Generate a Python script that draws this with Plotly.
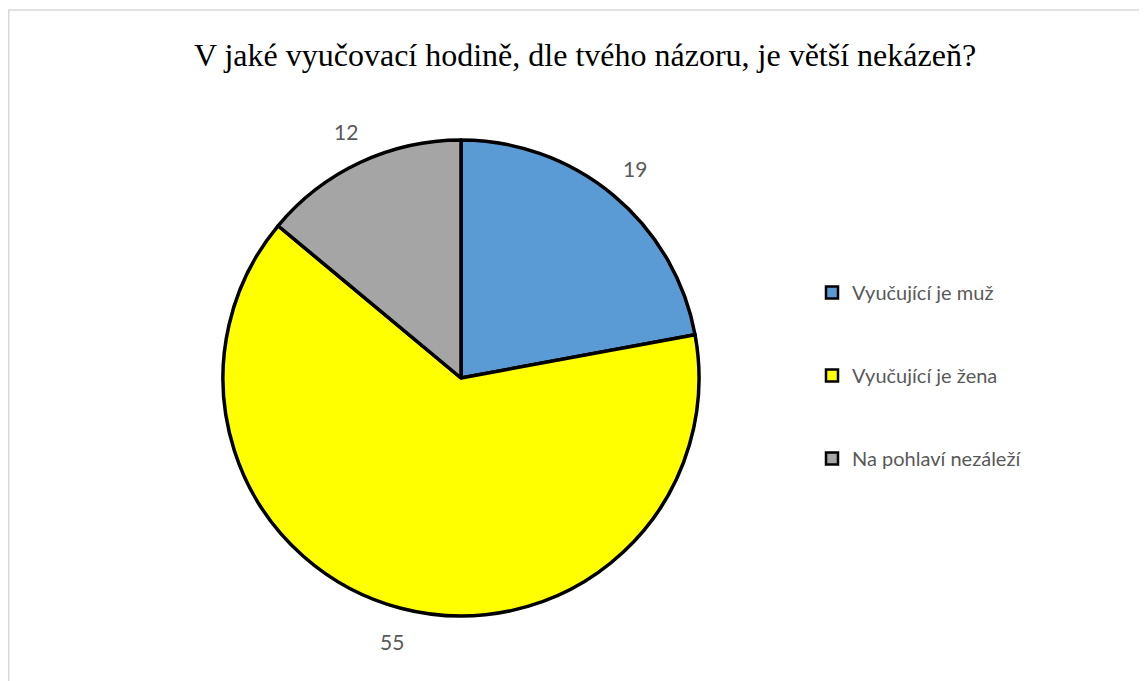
import math
import plotly.graph_objects as go

categories = ["Vyučující je muž", "Vyučující je žena", "Na pohlaví nezáleží"]
values = [19, 55, 12]
colors = ["#5b9bd5", "#ffff00", "#a5a5a5"]
title_text = "V jaké vyučovací hodině, dle tvého názoru, je větší nekázeň?"

W, H = 1147, 681
off = 8  # page body margin
cx, cy, R = 461 - off, 378 - off, 238
label_r = 272

fig = go.Figure()
fig.add_trace(go.Pie(
    labels=categories, values=values, sort=False, direction="clockwise", rotation=0,
    marker=dict(colors=colors, line=dict(color="black", width=3.5)),
    textinfo="none", hoverinfo="label+value", showlegend=False,
    domain=dict(x=[(cx - R) / W, (cx + R) / W], y=[(H - cy - R) / H, (H - cy + R) / H]),
))

for i, (c, col) in enumerate(zip(categories, colors)):
    fig.add_trace(go.Scatter(
        x=[None], y=[None], mode="markers", name=c, legendgroup=f"g{i}",
        marker=dict(symbol="square", size=12, color=col, line=dict(color="black", width=2.5)),
    ))

total = sum(values)
cum = 0
annotations = []
for v in values:
    mid = (cum + v / 2) / total * 2 * math.pi
    cum += v
    px = cx + label_r * math.sin(mid)
    py = cy - label_r * math.cos(mid)
    annotations.append(dict(
        x=px / W, y=(H - py) / H, xref="paper", yref="paper", text=str(v),
        showarrow=False, xanchor="center", yanchor="middle",
        font=dict(family="Lato", size=21, color="#595959"),
    ))

fig.update_layout(
    width=W, height=H,
    margin=dict(l=0, r=0, t=0, b=0),
    paper_bgcolor="white", plot_bgcolor="white",
    title=dict(text=title_text, x=(585 - off) / W, xanchor="center", y=1 - (55 - off) / H, yanchor="middle",
               font=dict(family="Liberation Serif", size=32, color="black")),
    xaxis=dict(visible=False), yaxis=dict(visible=False),
    legend=dict(x=(812 - off) / W, xanchor="left", y=1 - (277 - off - 4) / H, yanchor="top",
                font=dict(family="Lato", size=20, color="#595959"),
                tracegroupgap=54, bgcolor="rgba(0,0,0,0)"),
    annotations=annotations,
    shapes=[dict(type="rect", xref="paper", yref="paper",
                 x0=0.75 / W, x1=1.05, y0=-0.05, y1=1 - 2 / H,
                 line=dict(color="#d9d9d9", width=1.5), fillcolor="rgba(0,0,0,0)", layer="below")],
)

fig.write_html("out.html")
